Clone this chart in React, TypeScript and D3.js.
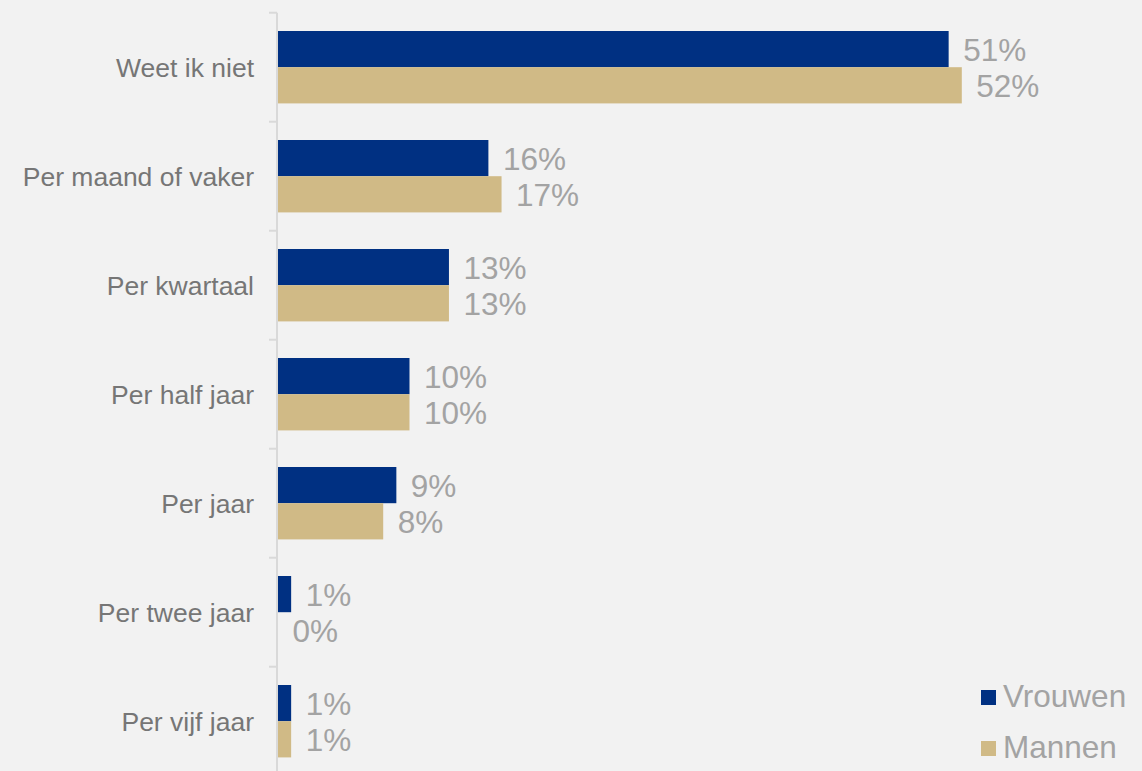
import { useEffect, useRef } from 'react';
import * as d3 from 'd3';

const categories = [
  'Weet ik niet',
  'Per maand of vaker',
  'Per kwartaal',
  'Per half jaar',
  'Per jaar',
  'Per twee jaar',
  'Per vijf jaar',
];
const vrouwen = [0.51, 0.16, 0.13, 0.10, 0.09, 0.01, 0.01];
const mannen = [0.52, 0.17, 0.13, 0.10, 0.08, 0.0, 0.01];
const seriesNames = ['Vrouwen', 'Mannen'];
const colors = ['#003082', '#D0BA86'];

export default function App() {
  const svgRef = useRef<SVGSVGElement>(null);
  const width = 1142;
  const height = 771;

  useEffect(() => {
    document.body.style.margin = '0';
    if (!svgRef.current) return;
    const svg = d3.select(svgRef.current);
    svg.selectAll('*').remove();

    const font = '"Liberation Sans", Arial, sans-serif';

    svg.append('rect')
      .attr('width', width)
      .attr('height', height)
      .attr('fill', '#f2f2f2');

    const x = d3.scaleLinear().domain([0, 0.6]).range([278, 1067]);
    const y = d3.scaleBand<string>()
      .domain(categories)
      .range([12.7, 12.7 + 109 * categories.length])
      .paddingInner(0)
      .paddingOuter(0);
    const inner = d3.scaleBand<string>()
      .domain(seriesNames)
      .range([18.3, 109 - 18.3]);

    // axis line + ticks at category boundaries
    const axisColor = '#d9d9d9';
    svg.append('line')
      .attr('x1', 277).attr('x2', 277)
      .attr('y1', 12.7).attr('y2', height)
      .attr('stroke', axisColor)
      .attr('stroke-width', 2);
    d3.range(categories.length + 1).forEach(i => {
      const yy = 12.7 + i * y.step();
      svg.append('line')
        .attr('x1', 269).attr('x2', 277)
        .attr('y1', yy).attr('y2', yy)
        .attr('stroke', axisColor)
        .attr('stroke-width', 2);
    });

    const series = [vrouwen, mannen];
    const g = svg.append('g');

    categories.forEach((cat, i) => {
      const y0 = y(cat)!;
      series.forEach((vals, s) => {
        const by = y0 + inner(seriesNames[s])!;
        const bh = inner.bandwidth();
        const v = vals[i];
        if (v > 0) {
          g.append('rect')
            .attr('x', x(0))
            .attr('y', by)
            .attr('width', x(v) - x(0))
            .attr('height', bh)
            .attr('fill', colors[s]);
        }
        g.append('text')
          .attr('x', x(v) + 14.5)
          .attr('y', by + bh / 2 + 11.5)
          .attr('font-family', font)
          .attr('font-size', 31.5)
          .attr('fill', '#a3a3a3')
          .text(`${Math.round(v * 100)}%`);
      });

      svg.append('text')
        .attr('x', 254)
        .attr('y', y0 + y.step() / 2 + 9.5)
        .attr('text-anchor', 'end')
        .attr('font-family', font)
        .attr('font-size', 26.5)
        .attr('fill', '#767676')
        .text(cat);
    });

    // legend
    const legendY = [705.5, 756.5];
    seriesNames.forEach((name, s) => {
      svg.append('rect')
        .attr('x', 981)
        .attr('y', legendY[s] - 15.5)
        .attr('width', 15)
        .attr('height', 15)
        .attr('fill', colors[s]);
      svg.append('text')
        .attr('x', 1003)
        .attr('y', legendY[s] + 1)
        .attr('font-family', font)
        .attr('font-size', 31.5)
        .attr('fill', '#a3a3a3')
        .text(name);
    });
  }, []);

  return <svg ref={svgRef} width={width} height={height} style={{ display: 'block' }} />;
}
